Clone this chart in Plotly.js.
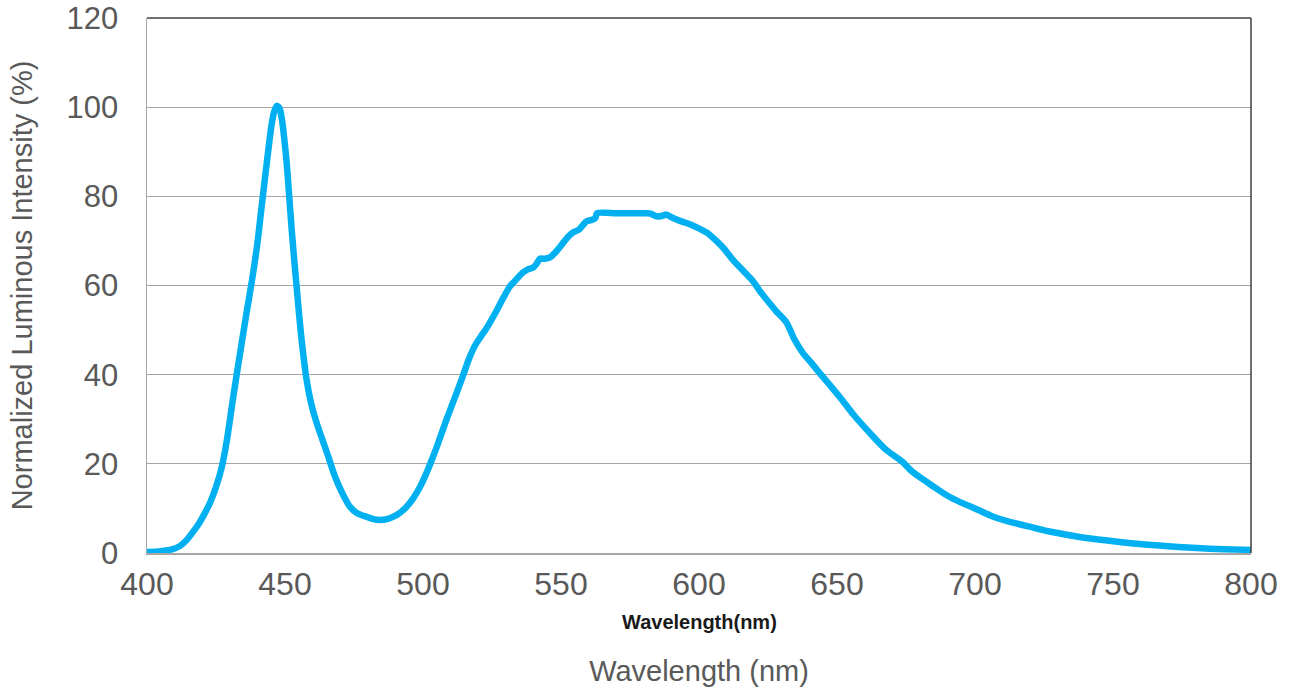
<!DOCTYPE html>
<html>
<head>
<meta charset="utf-8">
<script src="https://cdn.plot.ly/plotly-3.0.1.min.js"></script>
<style>html,body{margin:0;padding:0;background:#fff;}#chart{width:1291px;height:690px;}</style>
</head>
<body>
<div id="chart"></div>
<script>
// Wavelength (nm)
const wavelength = [400,405,409,412,414.5,417,419,421,423,425,427,429,431,433,434.5,436,438,440,441.5,443.5,445,446,447,448,449,449.8,450.6,451.5,452.4,453.3,454.2,455.1,456,457.8,459.5,461.4,463.5,465.6,467.5,469.2,471.5,473.5,476,479.6,482,484.4,487,489.5,491.6,494,496.5,498.9,500.8,502.5,505,508.5,511.5,514.4,516.5,518.8,521,523,526,528.9,531.5,534,536.2,538,539.8,541,542.3,544,546,548.5,550.7,552.5,554.3,556.5,558,559.3,561.5,562.5,563,570,575,581,582.5,584.6,586.5,588.2,590,593.1,596,600.3,603,606.3,609,612.2,616,619.5,622,624.4,628,631.7,634.5,637.6,640.5,643.8,647.5,651,656,661.9,667.5,673.8,677,680,684.5,689.6,695,700,706.4,712,719.8,728,737.9,748,759.7,770,780.3,790,800];
// Normalized luminous intensity (%)
const intensity = [0.2,0.4,0.8,1.6,3.0,5.0,6.8,9.0,11.5,14.8,19.0,25.5,34.0,42.0,47.8,53.6,61.0,69.5,77.5,88.0,95.5,98.8,100.3,99.8,96.8,92.5,87.6,80.2,72.8,66.0,59.8,53.6,47.9,38.9,33.5,29.3,25.5,21.8,18.2,15.5,12.5,10.4,9.0,8.1,7.6,7.4,7.6,8.2,9.0,10.3,12.3,14.8,17.3,19.8,23.8,29.9,34.8,39.6,43.3,46.5,48.6,50.4,53.6,57.0,59.8,61.5,62.9,63.6,64.0,64.7,66.0,66.0,66.3,67.8,69.5,70.9,71.9,72.5,73.6,74.4,74.8,75.2,76.2,76.2,76.2,76.2,76.1,75.5,75.6,75.9,75.3,74.5,73.9,72.7,71.8,70.0,68.3,65.8,63.3,61.0,58.8,56.9,54.2,51.7,48.0,44.9,42.8,40.3,37.6,35.0,31.0,26.9,23.3,20.4,18.4,17.0,15.1,13.0,11.3,10.0,8.2,7.1,5.9,4.7,3.6,2.8,2.0,1.5,1.1,0.85,0.7];
const xTicks = [400,450,500,550,600,650,700,750,800];
const yTicks = [0,20,40,60,80,100,120];

const trace = {
  x: wavelength, y: intensity, type: 'scatter', mode: 'lines',
  line: {color: '#00B0F0', width: 6.5, shape: 'spline', smoothing: 0.7},
  hoverinfo: 'x+y', showlegend: false
};

const layout = {
  width: 1291, height: 690,
  margin: {l: 147, r: 40, t: 18, b: 137},
  paper_bgcolor: '#ffffff', plot_bgcolor: '#ffffff',
  font: {family: '"Liberation Sans", Arial, sans-serif', color: '#595959'},
  xaxis: {
    range: [400, 800], tickvals: xTicks, ticktext: xTicks.map(String),
    showgrid: false, zeroline: false,
    showline: true, linecolor: '#A6A6A6', linewidth: 1.5,
    ticks: 'outside', ticklen: 2, tickcolor: 'rgba(0,0,0,0)',
    tickfont: {size: 32, color: '#595959'},
    title: {text: 'Wavelength (nm)', font: {size: 29, color: '#595959'}, standoff: 60}
  },
  yaxis: {
    range: [0, 120], tickvals: yTicks,
    showgrid: true, gridcolor: '#A6A6A6', gridwidth: 1.3,
    zeroline: false,
    showline: true, linecolor: '#A6A6A6', linewidth: 1.5,
    ticks: 'outside', ticklen: 21, tickcolor: 'rgba(0,0,0,0)',
    tickfont: {size: 31, color: '#595959'},
    title: {text: 'Normalized Luminous Intensity (%)', font: {size: 29, color: '#595959'}, standoff: 25}
  },
  shapes: [
    {type: 'line', xref: 'paper', yref: 'paper', x0: 0, x1: 1, y0: 1, y1: 1, line: {color: '#404040', width: 1.5}},
    {type: 'line', xref: 'paper', yref: 'paper', x0: 1, x1: 1, y0: 0, y1: 1, line: {color: '#404040', width: 1.5}}
  ],
  annotations: [
    {text: '<b>Wavelength(nm)</b>', xref: 'paper', yref: 'paper', x: 0.5, y: -0.129, yanchor: 'middle', xanchor: 'center',
     showarrow: false, font: {family: '"Liberation Sans", Arial, sans-serif', size: 20, color: '#1a1a1a'}}
  ]
};

Plotly.newPlot('chart', [trace], layout, {displayModeBar: false, staticPlot: true});
</script>
</body>
</html>
